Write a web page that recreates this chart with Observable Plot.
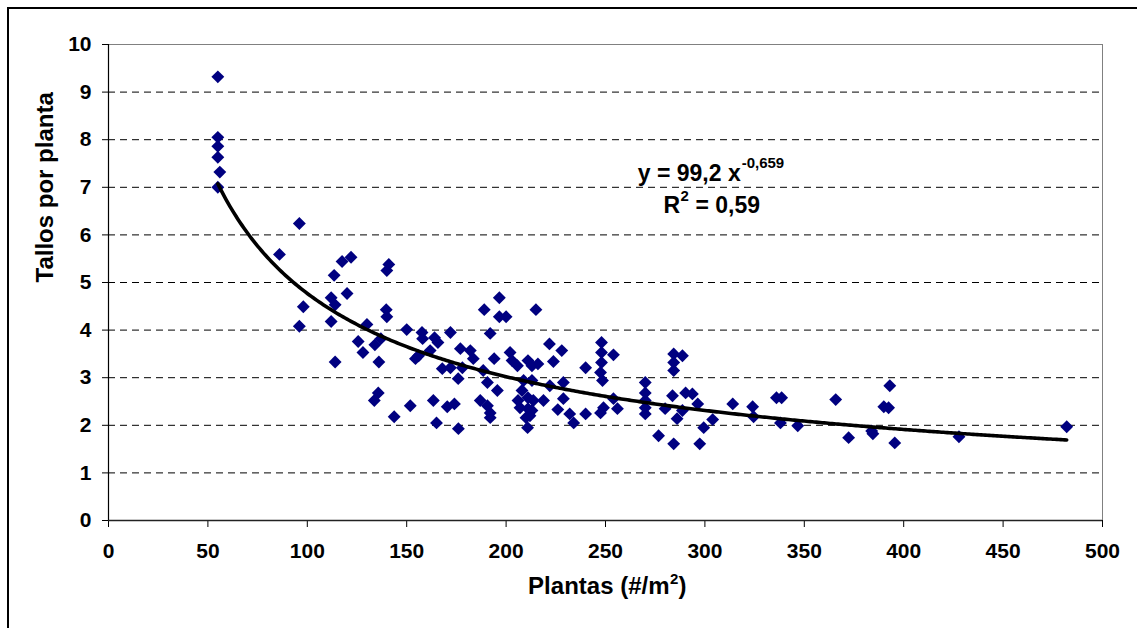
<!DOCTYPE html>
<html><head><meta charset="utf-8">
<script src="https://cdn.jsdelivr.net/npm/d3@7"></script>
<script src="https://cdn.jsdelivr.net/npm/@observablehq/plot@0.6"></script>
<style>
html,body{margin:0;padding:0;background:#fff;overflow:hidden}
#chart{position:relative;width:1137px;height:628px}
#frame{position:absolute;left:7px;top:7px;width:1300px;height:800px;border-left:2px solid #000;border-top:2px solid #000;pointer-events:none}
</style></head><body><div id="chart"><div id="frame"></div></div>
<script>
const plantas = [55,55,55,55,56,55,86,96,96,98,112,114,112,113.5,114,117.5,122,120,130,125.6,128,134,137,136,135.7,133.7,139.7,140,140,141,143.7,150,151.8,154.4,156,157.7,158,161.8,163.4,164,165.7,165,167.9,170.4,172,172,174,176,175.9,177,178,182,183.5,187,188.5,189,190.6,190.6,192,192,192,194,195.6,196.6,196.6,200,202,203,205.7,206,207,208,208.8,211,211,211,210,210.8,212,213,213,213.7,213,215,216,218.8,221.8,222,223.8,226,228,228.8,228.8,232,234,240,240,248,248,248,247.5,248.5,249,247.5,254,254,256,270,270,270,270,270,276.7,280,283.7,284.3,284.3,284.3,284.3,286,288.7,288.7,290.3,293.7,296.4,297.4,299.4,303.9,314,324,324.5,336,338.6,338,346.7,365.8,372.3,383.9,384.5,390,392.4,393,395.5,427.8,482];
const tallos = [9.32,8.05,7.86,7.63,7.32,7.0,5.59,6.24,4.08,4.49,4.68,4.53,4.18,5.15,3.33,5.44,5.53,4.77,4.12,3.76,3.53,3.69,3.82,3.33,2.68,2.52,4.43,4.28,5.25,5.38,2.18,4.01,2.41,3.4,3.46,3.95,3.82,3.57,2.52,3.84,3.74,2.05,3.19,2.39,3.95,3.21,2.45,1.93,2.98,3.61,3.21,3.57,3.4,2.52,3.15,4.43,2.9,2.41,3.93,2.26,2.16,3.4,2.73,4.68,4.28,4.28,3.53,3.36,3.25,2.52,2.37,2.73,2.94,3.36,2.58,2.35,2.16,1.95,2.2,3.25,2.94,2.52,2.31,4.43,3.29,2.52,3.71,2.83,3.34,2.33,3.57,2.9,2.56,2.24,2.05,3.21,2.24,3.74,3.53,3.32,3.11,2.94,2.37,2.26,3.48,2.56,2.35,2.9,2.68,2.52,2.37,2.24,1.78,2.35,2.62,3.5,3.32,3.15,1.61,2.14,3.46,2.31,2.68,2.66,2.45,1.61,1.95,2.12,2.45,2.39,2.18,2.58,2.58,2.05,1.99,2.54,1.74,1.88,1.82,2.39,2.37,2.83,1.63,1.76,1.97];
const xTicks = [0,50,100,150,200,250,300,350,400,450,500];
const yTicks = [0,1,2,3,4,5,6,7,8,9,10];
const gridLines = [1,2,3,4,5,6,7,8,9];
const fitA = 99.2, fitB = -0.659;
const eqMain = "y = 99,2 x", eqExp = "-0,659", r2Main = "R", r2Exp = "2", r2Rest = " = 0,59";
const xTitle = "Plantas (#/m", xTitleExp = "2", xTitleEnd = ")", yTitle = "Tallos por planta";
const eqPos = {x: 318, y: 7.29}, r2Pos = {x: 287.5, y: 6.61};

const pts = plantas.map((p, i) => ({p, t: tallos[i]}));
const [xmin, xmax] = d3.extent(plantas);
const curve = d3.range(xmin, xmax + 0.001, 1).concat([xmax]).map(x => ({x, y: fitA * Math.pow(x, fitB)}));
const bold = {fontWeight: "bold", fill: "#000"};

const chart = Plot.plot({
  width: 1137, height: 628,
  marginLeft: 108, marginRight: 35, marginTop: 44, marginBottom: 108,
  style: {fontFamily: "'Liberation Sans', Arial, sans-serif", color: "#000", background: "transparent"},
  x: {domain: [0, 500]},
  y: {domain: [0, 10]},
  marks: [
    Plot.ruleY(gridLines, {stroke: "#000", strokeDasharray: "7,5", strokeWidth: 1}),
    Plot.ruleY([10], {stroke: "#808080", strokeWidth: 1}),
    Plot.ruleX([500], {stroke: "#808080", strokeWidth: 1}),
    Plot.axisY(yTicks, {tickSize: 6, tickPadding: 11, fontSize: 21, fontWeight: "bold", label: null}),
    Plot.axisX(xTicks, {tickSize: 7, tickPadding: 16, fontSize: 21, fontWeight: "bold", label: null}),
    Plot.ruleX([0], {stroke: "#000", strokeWidth: 1.2}),
    Plot.ruleY([0], {stroke: "#222", strokeWidth: 1.6}),
    Plot.dot(pts, {x: "p", y: "t", symbol: "diamond2", r: 5.8, fill: "#000080", stroke: "none"}),
    Plot.line(curve, {x: "x", y: "y", stroke: "#000", strokeWidth: 3.6, curve: "linear"}),
    Plot.text([eqMain], {x: () => eqPos.x, y: () => eqPos.y, text: d => d, textAnchor: "end", fontSize: 23, ...bold}),
    Plot.text([eqExp], {x: () => eqPos.x, y: () => eqPos.y, text: d => d, textAnchor: "start", dx: 1, dy: -10, fontSize: 15, ...bold}),
    Plot.text([r2Main], {x: () => r2Pos.x, y: () => r2Pos.y, text: d => d, textAnchor: "end", fontSize: 23, ...bold}),
    Plot.text([r2Exp], {x: () => r2Pos.x, y: () => r2Pos.y, text: d => d, textAnchor: "start", dx: 0.5, dy: -10, fontSize: 15, ...bold}),
    Plot.text([r2Rest], {x: () => r2Pos.x, y: () => r2Pos.y, text: d => d, textAnchor: "start", dx: 9, fontSize: 23, ...bold}),
    Plot.text([xTitle], {frameAnchor: "bottom", text: d => d, textAnchor: "end", dx: 64, dy: 73, fontSize: 24, ...bold}),
    Plot.text([xTitleExp], {frameAnchor: "bottom", text: d => d, textAnchor: "start", dx: 64.5, dy: 63, fontSize: 15, ...bold}),
    Plot.text([xTitleEnd], {frameAnchor: "bottom", text: d => d, textAnchor: "start", dx: 73, dy: 73, fontSize: 24, ...bold}),
    Plot.text([yTitle], {frameAnchor: "left", text: d => d, rotate: -90, dx: -63, fontSize: 24, ...bold})
  ]
});
document.getElementById("chart").insertBefore(chart, document.getElementById("frame"));
</script>
</body></html>
